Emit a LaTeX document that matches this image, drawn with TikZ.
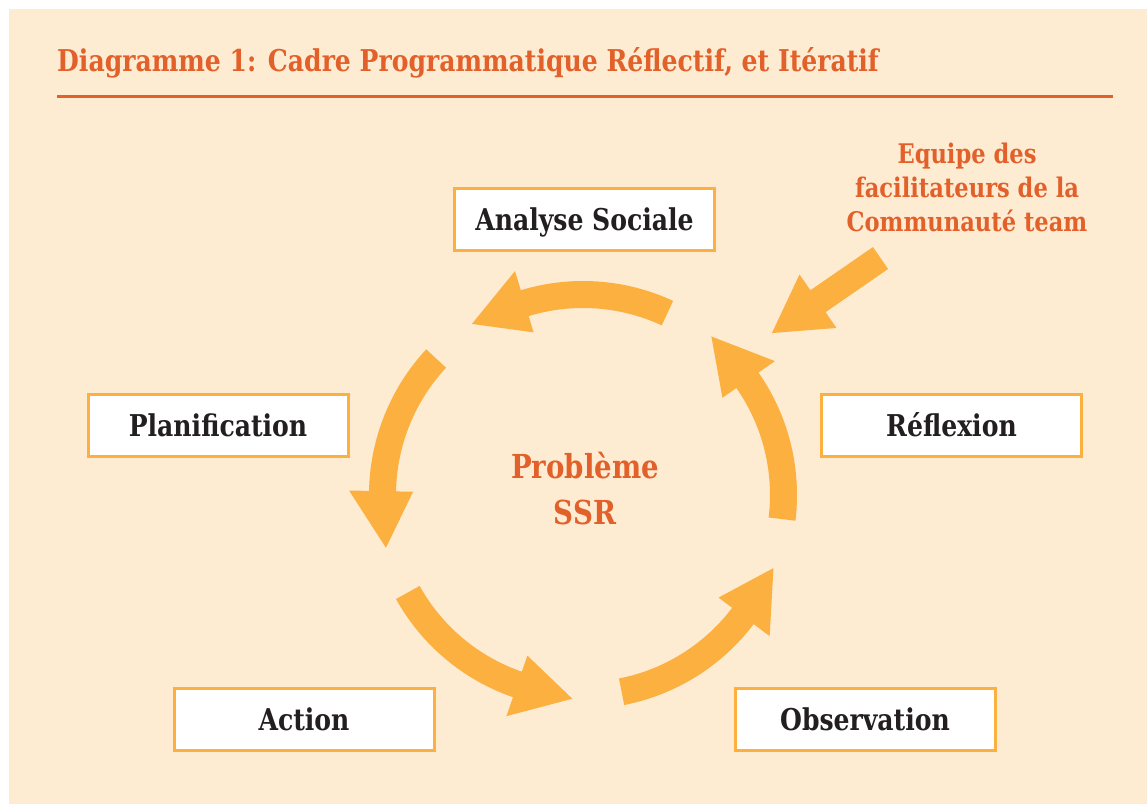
\documentclass[tikz,border=0pt]{standalone}
\usepackage{fontspec}
\newfontfamily\slab{DejaVu Serif Condensed Bold}[FakeStretch=0.93]
\definecolor{peach}{HTML}{FDEBD2}
\definecolor{rust}{HTML}{E2602A}
\definecolor{amber}{HTML}{FBB040}
\definecolor{ink}{HTML}{231F20}
\begin{document}
\begin{tikzpicture}[x=1pt,y=1pt,
  stagebox/.style={draw=amber, line width=3pt, fill=white, minimum width=260pt,
    minimum height=62pt, inner sep=0pt, text=ink, text height=22pt, text depth=0pt,
    font=\slab\fontsize{30}{36}\selectfont},
  hint/.style={text=rust, align=center},
  flow/.style={fill=amber}]
\useasboundingbox (0,0) rectangle (1147,804);
% page background
\fill[peach] (9,0) rectangle (1147,795);

% heading and rule
\node[anchor=base west, inner sep=0pt, text=rust, font=\slab\fontsize{30}{36}\selectfont]
  (title) at (57,732) {Diagramme 1: Cadre Programmatique Réflectif, et Itératif};
\draw[rust, line width=3pt] (57,707) -- (1113,707);

% stages of the cycle
\node[stagebox] (analyse) at (584.5,584.5) {Analyse Sociale};
\node[stagebox] (plan)    at (218,378.5)   {Planification};
\node[stagebox] (reflex)  at (951.5,378.5) {Réflexion};
\node[stagebox] (action)  at (304,84.5)    {Action};
\node[stagebox] (observ)  at (865,84.5)    {Observation};

% centre of the cycle
\node[hint, font=\slab\fontsize{33}{46}\selectfont] (probleme) at (585,315) {Problème\\SSR};

% facilitators
\node[hint, font=\slab\fontsize{27}{34}\selectfont] (team) at (967,617)
  {Equipe des\\facilitateurs de la\\Communauté team};

% five curved arrows around the problem
\begin{scope}[shift={(583,309)}]
  \foreach \t in {65.1,137.1,209.1,281.1,353.1}{
    \pgfmathsetmacro\n{\t+41.8}
    \pgfmathsetmacro\p{\n+16.1}
    \fill[flow] (\t:214pt) arc[start angle=\t, end angle=\n, radius=214pt]
      -- (\n:234pt) -- (\p:204pt) -- (\n:170pt) -- (\n:187pt)
      arc[start angle=\n, end angle=\t, radius=187pt] -- cycle;
  }
\end{scope}

% arrow from the facilitators into the cycle
\coordinate (tail) at (880.5,546);
\begin{scope}[shift={(tail)}, rotate=214.65]
  \fill[flow] (0,13.3) -- (76,13.3) -- (76,32.5) -- (132,0) -- (76,-32.5)
    -- (76,-13.3) -- (0,-13.3) -- cycle;
\end{scope}
\end{tikzpicture}
\end{document}
